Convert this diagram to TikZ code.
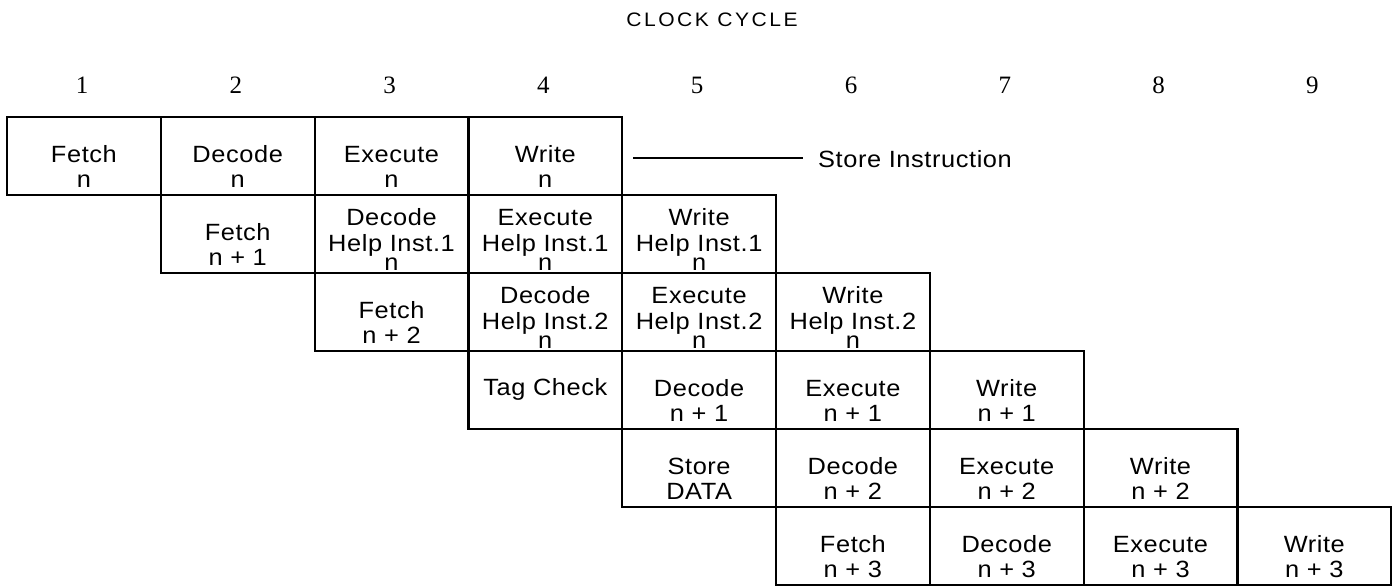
\documentclass[tikz,border=0pt]{standalone}
\usepackage{fontspec}
\setmainfont{Liberation Sans}[FakeStretch=1.08, LetterSpace=2.5]
\newfontfamily\numfont{Liberation Serif}
\begin{document}
\begin{tikzpicture}[x=1pt,y=-1pt,
  cellbox/.style={draw, line width=2.2pt, minimum width=153.8pt, minimum height=78pt,
                  inner sep=0pt, outer sep=0pt, anchor=north west},
  txt/.style={inner sep=0pt, anchor=base, font=\fontsize{23.5}{27}\selectfont},
  num/.style={inner sep=0pt, font=\numfont\fontsize{25}{29}\selectfont},
]
\useasboundingbox (0,0) rectangle (1393,587);

% one pipeline stage box: name, column, row
\newcommand\stagebox[3]{%
  \node[cellbox] (#1) at ({7+153.8*(#2-1)},{117+78*(#3-1)}) {};}
% stage with two text lines
\newcommand\twoline[5]{%
  \stagebox{#1}{#2}{#3}
  \node[txt] (#1-a) at ([yshift=-45pt]#1.north) {#4};
  \node[txt] (#1-b) at ([yshift=-70pt]#1.north) {#5};}
% stage with three text lines (helper instructions)
\newcommand\threeline[5]{%
  \stagebox{#1}{#2}{#3}
  \node[txt] (#1-a) at ([yshift=-30pt]#1.north) {#4};
  \node[txt] (#1-b) at ([yshift=-56pt]#1.north) {#5};
  \node[txt] (#1-c) at ([yshift=-75.5pt]#1.north) {n};}

% title and cycle numbers
\node[inner sep=0pt, font=\fontsize{19.5}{23}\selectfont\addfontfeature{LetterSpace=13}] (title) at (712,20) {CLOCK CYCLE};
\foreach \i in {1,...,9}
  \node[num] (cyc\i) at ({82+153.8*(\i-1)},85) {\i};

% row 1: store instruction
\twoline{r1c1}{1}{1}{Fetch}{n}
\twoline{r1c2}{2}{1}{Decode}{n}
\twoline{r1c3}{3}{1}{Execute}{n}
\twoline{r1c4}{4}{1}{Write}{n}
\coordinate (sia) at (633,158);
\coordinate (sib) at (803,158);
\draw[line width=1.6pt] (sia) -- (sib);
\node[txt, anchor=base west] (store) at (818,167) {Store Instruction};

% row 2: first helper instruction
\twoline{r2c2}{2}{2}{Fetch}{n + 1}
\threeline{r2c3}{3}{2}{Decode}{Help Inst.1}
\threeline{r2c4}{4}{2}{Execute}{Help Inst.1}
\threeline{r2c5}{5}{2}{Write}{Help Inst.1}

% row 3: second helper instruction
\twoline{r3c3}{3}{3}{Fetch}{n + 2}
\threeline{r3c4}{4}{3}{Decode}{Help Inst.2}
\threeline{r3c5}{5}{3}{Execute}{Help Inst.2}
\threeline{r3c6}{6}{3}{Write}{Help Inst.2}

% row 4
\stagebox{r4c4}{4}{4}
\node[txt] (r4c4-a) at ([yshift=-44pt]r4c4.north) {Tag Check};
\twoline{r4c5}{5}{4}{Decode}{n + 1}
\twoline{r4c6}{6}{4}{Execute}{n + 1}
\twoline{r4c7}{7}{4}{Write}{n + 1}

% row 5
\twoline{r5c5}{5}{5}{Store}{DATA}
\twoline{r5c6}{6}{5}{Decode}{n + 2}
\twoline{r5c7}{7}{5}{Execute}{n + 2}
\twoline{r5c8}{8}{5}{Write}{n + 2}

% row 6
\twoline{r6c6}{6}{6}{Fetch}{n + 3}
\twoline{r6c7}{7}{6}{Decode}{n + 3}
\twoline{r6c8}{8}{6}{Execute}{n + 3}
\twoline{r6c9}{9}{6}{Write}{n + 3}
\end{tikzpicture}
\end{document}
